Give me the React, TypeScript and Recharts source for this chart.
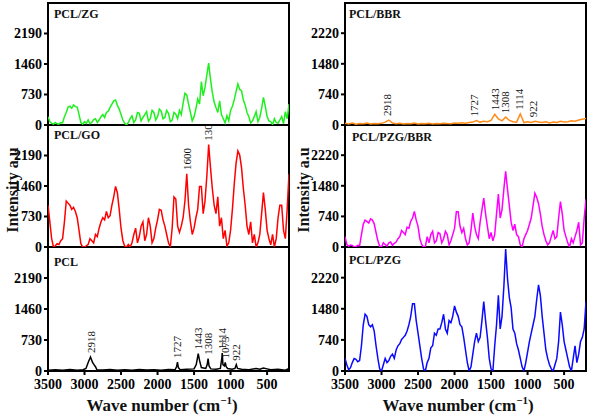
import { LineChart, Line, XAxis, YAxis, ReferenceDot } from 'recharts'

// wavenumber grid of the noisy composite spectra (cm-1)
const wave = [
  3500, 3475, 3450, 3425, 3400, 3375, 3350, 3325, 3300, 3275,
  3250, 3225, 3200, 3175, 3150, 3125, 3100, 3075, 3050, 3025,
  3000, 2975, 2950, 2925, 2900, 2875, 2850, 2825, 2800, 2775,
  2750, 2725, 2700, 2675, 2650, 2625, 2600, 2575, 2550, 2525,
  2500, 2475, 2450, 2425, 2400, 2375, 2350, 2325, 2300, 2275,
  2250, 2225, 2200, 2175, 2150, 2125, 2100, 2075, 2050, 2025,
  2000, 1975, 1950, 1925, 1900, 1875, 1850, 1825, 1800, 1775,
  1750, 1725, 1700, 1675, 1650, 1625, 1600, 1575, 1550, 1525,
  1500, 1475, 1450, 1425, 1400, 1375, 1350, 1325, 1300, 1275,
  1250, 1225, 1200, 1175, 1150, 1125, 1100, 1075, 1050, 1025,
  1000, 975, 950, 925, 900, 875, 850, 825, 800, 775,
  750, 725, 700, 675, 650, 625, 600, 575, 550, 525,
  500, 475, 450, 425, 400, 375, 350, 325, 300, 275,
  250, 225, 200,
]

const pclZg = [
  200, 80, 40, 20, 60, 30, 20, 60, 50, 200,
  300, 430, 450, 400, 480, 440, 430, 250, 60, 20,
  80, 40, 120, 30, 60, 130, 150, 60, 120, 200,
  250, 180, 300, 330, 420, 500, 580, 600, 470, 380,
  250, 120, 40, 0, 60, 150, 220, 60, 120, 300,
  280, 100, 180, 250, 320, 90, 150, 350, 300, 120,
  200, 380, 330, 150, 180, 350, 280, 80, 120, 300,
  260, 150, 350, 250, 520, 760, 720, 500, 300, 100,
  200, 380, 620, 500, 1040, 700, 900, 1200, 1480, 1100,
  780, 550, 420, 300, 580, 250, 150, 50, 220, 100,
  350, 450, 600, 800, 980, 850, 820, 600, 480, 300,
  200, 50, 100, 200, 320, 80, 180, 400, 660, 450,
  200, 100, 80, 10, 150, 60, 40, 120, 200, 30,
  320, 150, 500,
]

const pclGo = [
  1000, 600, 200, 0, 30, 80, 60, 150, 200, 600,
  1100, 1050, 1000, 900, 950, 850, 700, 400, 80, 0,
  0, 30, 60, 200, 150, 100, 300, 250, 450, 600,
  700, 650, 850, 700, 750, 1000, 1200, 1450, 1300, 900,
  450, 150, 20, 0, 60, 0, 100, 300, 450, 100,
  250, 500, 600, 150, 300, 700, 500, 100, 200, 450,
  650, 900, 880, 650, 500, 300, 100, 0, 450, 1200,
  1150, 500, 350, 500, 700, 1100, 1750, 1000, 600, 300,
  450, 700, 900, 1450, 1450, 800, 1100, 1700, 2450, 1900,
  1400, 1000, 800, 1200, 500, 700, 200, 400, 20, 100,
  400, 900, 1500, 2000, 2300, 2200, 1900, 1400, 1000, 500,
  300, 600, 100, 300, 0, 100, 300, 800, 1300, 900,
  400, 200, 50, 300, 0, 200, 700, 1000, 1000, 400,
  200, 900, 1750,
]

const pclPzgBbr = [
  250, 60, 20, 50, 40, 0, 10, 40, 30, 300,
  550, 650, 620, 580, 680, 650, 560, 350, 150, 20,
  0, 100, 60, 20, 100, 120, 40, 90, 120, 200,
  250, 400, 350, 300, 480, 450, 620, 700, 860, 650,
  500, 200, 60, 0, 0, 250, 100, 300, 380, 100,
  150, 350, 320, 100, 200, 380, 300, 50, 150, 300,
  450, 850, 850, 500, 350, 450, 200, 50, 100, 400,
  820, 500, 300, 200, 600, 900, 1180, 800, 500, 200,
  350, 150, 300, 800, 1280, 700, 900, 1400, 1830, 1400,
  1000, 600, 400, 550, 300, 250, 50, 0, 200, 300,
  400, 550, 700, 1000, 1300, 1200, 1050, 800, 500, 300,
  150, 50, 100, 250, 400, 200, 250, 700, 1100, 800,
  400, 250, 100, 0, 200, 100, 250, 400, 600, 50,
  100, 700, 1150,
]

const pclPzg = [
  300, 150, 30, 80, 200, 300, 280, 220, 250, 600,
  1100, 1350, 1300, 1100, 1050, 1100, 950, 600, 300, 50,
  0, 150, 300, 200, 250, 350, 400, 300, 500, 600,
  650, 750, 800, 850, 950, 1100, 1300, 1600, 1600, 1200,
  900, 600, 300, 50, 0, 200, 300, 550, 600, 900,
  850, 1000, 1000, 1150, 1350, 1000, 900, 1200, 1150, 1300,
  1550, 1400, 1300, 1100, 1050, 800, 500, 200, 0, 100,
  400, 700, 900, 700, 800, 1200, 1650, 1200, 800, 300,
  50, 0, 600, 1100, 1800, 1000, 1300, 2000, 2900, 2200,
  1750, 1500, 1000, 900, 650, 500, 300, 100, 0, 200,
  450, 700, 900, 1100, 1300, 1700, 2050, 1800, 1300, 900,
  500, 300, 150, 50, 0, 150, 300, 700, 1400, 1100,
  700, 500, 300, 100, 0, 300, 600, 200, 400, 700,
  800, 1000, 1650,
]

// PCL/BBR is nearly flat, a coarser grid is enough
const coarseWave = [
  3500, 3450, 3400, 3350, 3300, 3250, 3200, 3150, 3100, 3050,
  3000, 2950, 2900, 2850, 2800, 2750, 2700, 2650, 2600, 2550,
  2500, 2450, 2400, 2350, 2300, 2250, 2200, 2150, 2100, 2050,
  2000, 1950, 1900, 1850, 1800, 1750, 1700, 1650, 1600, 1550,
  1500, 1450, 1400, 1350, 1300, 1250, 1200, 1150, 1100, 1050,
  1000, 950, 900, 850, 800, 750, 700, 650, 600, 550,
  500, 450, 400, 350, 300, 250, 200,
]
const pclBbr = [
  40, 25, 45, 20, 35, 30, 45, 25, 35, 30,
  40, 70, 120, 50, 30, 40, 25, 35, 30, 45,
  25, 35, 30, 40, 25, 35, 30, 45, 35, 30,
  50, 40, 55, 45, 60, 70, 110, 70, 90, 80,
  110, 260, 150, 100, 190, 110, 80, 70, 270, 60,
  80, 60, 90, 70, 60, 80, 50, 70, 60, 90,
  70, 80, 100, 90, 120, 140, 160,
]

// neat PCL has its own sampling around the sharp bands
const pclWave = [
  3500, 3400, 3300, 3200, 3100, 3020, 2980, 2950, 2918, 2890,
  2870, 2850, 2830, 2750, 2650, 2550, 2450, 2350, 2250, 2150,
  2050, 1950, 1850, 1760, 1740, 1727, 1715, 1690, 1600, 1500,
  1470, 1443, 1425, 1400, 1340, 1320, 1308, 1295, 1270, 1200,
  1140, 1120, 1114, 1105, 1085, 1073, 1060, 1040, 980, 940,
  922, 905, 850, 750, 650, 600, 550, 500, 450, 350,
  250, 200,
]
const pclValue = [
  20, 30, 15, 35, 20, 30, 60, 200, 330, 200,
  150, 100, 30, 25, 35, 20, 30, 20, 35, 25,
  30, 20, 35, 30, 100, 210, 80, 30, 40, 50,
  150, 410, 250, 80, 60, 150, 290, 120, 50, 40,
  60, 300, 420, 150, 120, 200, 100, 60, 40, 60,
  150, 60, 40, 30, 60, 40, 70, 50, 30, 40,
  20, 60,
]

// band labels: wavenumber and the intensity they sit on
const pclBands = [2918, 1727, 1443, 1308, 1114, 1073, 922]
const pclBandAt = [330, 210, 410, 290, 420, 200, 150]
const bbrBands = [2918, 1727, 1443, 1308, 1114, 922]
const bbrBandAt = [120, 110, 260, 190, 270, 90]
const goBands = [1600, 1308]
const goBandAt = [1750, 2450]

const xTicks = [3500, 3000, 2500, 2000, 1500, 1000, 500]
const leftTicks = [0, 730, 1460, 2190]
const rightTicks = [0, 740, 1480, 2220]

const FONT = '"Liberation Serif", "Times New Roman", serif'

function toRows(xs: number[], ys: number[]) {
  return xs.map((w, i) => ({ w, v: ys[i] }))
}

function BandLabel(props: any) {
  const vb = props.viewBox || {}
  const x = (vb.x ?? 0) + (vb.width ?? 0) / 2
  const y = (vb.y ?? 0) - 4
  return (
    <text
      x={x}
      y={y}
      transform={`rotate(-90 ${x} ${y})`}
      textAnchor="start"
      dominantBaseline="central"
      fontSize={11}
      fontFamily={FONT}
      fill="#111"
    >
      {props.text}
    </text>
  )
}

interface PanelProps {
  rows: { w: number; v: number }[]
  color: string
  left: number
  top: number
  height: number
  width: number
  rightMargin: number
  ticks: number[]
  max: number
  bottom?: boolean
  bands?: number[]
  bandAt?: number[]
}

function Panel({ rows, color, left, top, height, width, rightMargin, ticks, max, bottom, bands, bandAt }: PanelProps) {
  const tickFont = { fill: '#000', fontSize: 14, fontWeight: 700, fontFamily: FONT }
  const extra = bottom ? 30 : 8
  return (
    <div style={{ position: 'absolute', left, top }}>
      <LineChart
        width={width}
        height={height + extra}
        data={rows}
        margin={{ top: 0, right: rightMargin, bottom: bottom ? 0 : 8, left: 0 }}
      >
        <XAxis
          dataKey="w"
          type="number"
          domain={[200, 3500]}
          reversed
          allowDataOverflow
          ticks={xTicks}
          axisLine={false}
          tickLine={{ stroke: '#000', strokeWidth: 2 }}
          tickSize={bottom ? 4 : 3}
          tickMargin={4}
          mirror={!bottom}
          height={bottom ? 30 : 0}
          tick={bottom ? tickFont : false}
          interval={0}
        />
        <YAxis
          type="number"
          domain={[0, max]}
          allowDataOverflow
          ticks={ticks}
          width={48}
          axisLine={false}
          tickLine={{ stroke: '#000', strokeWidth: 2 }}
          tickSize={4}
          tickMargin={2}
          tick={tickFont}
          interval={0}
        />
        <YAxis
          yAxisId="mirror"
          orientation="right"
          type="number"
          domain={[0, max]}
          ticks={ticks}
          width={0}
          mirror
          axisLine={false}
          tickLine={{ stroke: '#000', strokeWidth: 2 }}
          tickSize={3}
          tick={false}
          interval={0}
        />
        <Line
          dataKey="v"
          stroke={color}
          strokeWidth={1.5}
          dot={false}
          isAnimationActive={false}
          type="linear"
        />
        {(bands || []).map((b, i) => (
          <ReferenceDot
            key={b}
            x={b}
            y={bandAt ? bandAt[i] : 0}
            r={0}
            fill="none"
            stroke="none"
            label={(p: any) => <BandLabel {...p} text={String(b)} />}
          />
        ))}
      </LineChart>
    </div>
  )
}

const titleStyle: React.CSSProperties = {
  position: 'absolute',
  fontFamily: FONT,
  fontWeight: 700,
  fontSize: 12,
  color: '#111',
  lineHeight: '14px',
  whiteSpace: 'nowrap',
}

function YTitle({ cx, cy }: { cx: number; cy: number }) {
  return (
    <div
      style={{
        position: 'absolute',
        left: cx - 80,
        top: cy - 10,
        width: 160,
        height: 20,
        lineHeight: '20px',
        textAlign: 'center',
        transform: 'rotate(-90deg)',
        fontFamily: FONT,
        fontWeight: 700,
        fontSize: 16,
        color: '#111',
      }}
    >
      Intensity a.u
    </div>
  )
}

function XTitle({ cx }: { cx: number }) {
  return (
    <div
      style={{
        position: 'absolute',
        left: cx - 100,
        top: 394,
        width: 200,
        textAlign: 'center',
        fontFamily: FONT,
        fontWeight: 700,
        fontSize: 17,
        color: '#111',
        whiteSpace: 'nowrap',
      }}
    >
      Wave number (cm<sup style={{ fontSize: 11 }}>−1</sup>)
    </div>
  )
}

const frame = (left: number, top: number, width: number, height: number): React.CSSProperties => ({
  position: 'absolute',
  left,
  top,
  width,
  height,
  boxSizing: 'border-box',
  border: '2px solid #000',
})

const bar = (left: number, top: number): React.CSSProperties => ({
  position: 'absolute',
  left,
  top,
  width: 243,
  height: 2,
  background: '#000',
})

export default function App() {
  const tops = [3, 125, 247]
  const heights = [122, 122, 124]
  return (
    <div style={{ position: 'absolute', left: 0, top: 0, width: 591, height: 415, background: '#fff', overflow: 'hidden' }}>
      {/* frames first so the spectra sit over the borders */}
      <div style={frame(47, 2, 243, 370)} />
      <div style={bar(47, 124)} />
      <div style={bar(47, 246)} />
      <div style={frame(344, 2, 243, 370)} />
      <div style={bar(344, 124)} />
      <div style={bar(344, 246)} />

      <Panel rows={toRows(wave, pclZg)} color="#1ef01e" left={0} top={tops[0]} height={heights[0]} width={295} rightMargin={6} ticks={leftTicks} max={2920} />
      <Panel rows={toRows(wave, pclGo)} color="#ff0000" left={0} top={tops[1]} height={heights[1]} width={295} rightMargin={6} ticks={leftTicks} max={2920} bands={goBands} bandAt={goBandAt} />
      <Panel rows={toRows(pclWave, pclValue)} color="#000000" left={0} top={tops[2]} height={heights[2]} width={295} rightMargin={6} ticks={leftTicks} max={2920} bottom bands={pclBands} bandAt={pclBandAt} />

      <Panel rows={toRows(coarseWave, pclBbr)} color="#ff8c1a" left={297} top={tops[0]} height={heights[0]} width={294} rightMargin={5} ticks={rightTicks} max={2950} bands={bbrBands} bandAt={bbrBandAt} />
      <Panel rows={toRows(wave, pclPzgBbr)} color="#ff00ff" left={297} top={tops[1]} height={heights[1]} width={294} rightMargin={5} ticks={rightTicks} max={2950} />
      <Panel rows={toRows(wave, pclPzg)} color="#0a0aff" left={297} top={tops[2]} height={heights[2]} width={294} rightMargin={5} ticks={rightTicks} max={2950} bottom />

      <div style={{ ...titleStyle, left: 54, top: 7 }}>PCL/ZG</div>
      <div style={{ ...titleStyle, left: 54, top: 128 }}>PCL/GO</div>
      <div style={{ ...titleStyle, left: 54, top: 255 }}>PCL</div>
      <div style={{ ...titleStyle, left: 349, top: 7 }}>PCL/BBR</div>
      <div style={{ ...titleStyle, left: 352, top: 130 }}>PCL/PZG/BBR</div>
      <div style={{ ...titleStyle, left: 349, top: 253 }}>PCL/PZG</div>

      <YTitle cx={13} cy={190} />
      <YTitle cx={304} cy={190} />
      <XTitle cx={162} />
      <XTitle cx={458} />
    </div>
  )
}
